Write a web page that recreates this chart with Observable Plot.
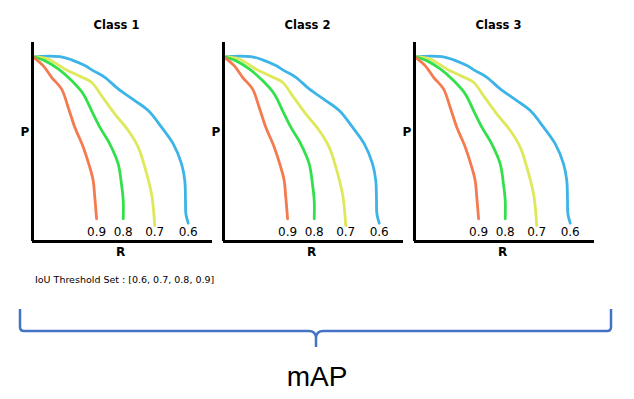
<!DOCTYPE html>
<html><head><meta charset="utf-8">
<script src="https://cdn.jsdelivr.net/npm/d3@7"></script>
<script src="https://cdn.jsdelivr.net/npm/@observablehq/plot@0.6"></script>
<style>
body{margin:0;background:#fff;}
#wrap{position:relative;width:634px;height:399px;overflow:hidden;}
#chart{position:absolute;left:0;top:0;}
#iou{position:absolute;left:35px;top:274px;font:9.5px "DejaVu Sans",sans-serif;color:#000;white-space:nowrap;}
#brace{position:absolute;left:0;top:0;}
#map{position:absolute;left:0;width:634px;top:361px;text-align:center;font:28px "Liberation Sans",Arial,sans-serif;color:#000;}
</style></head>
<body>
<div id="wrap">
<div id="chart"></div>
<div id="iou"></div>
<svg id="brace" width="634" height="399"></svg>
<div id="map"></div>
</div>
<script>
const classes = ["Class 1", "Class 2", "Class 3"];
const thresholds = [0.6, 0.7, 0.8, 0.9];
const thresholdLabels = ["0.6", "0.7", "0.8", "0.9"];
const colors = ["#3cb4e8", "#dfe85a", "#33e04b", "#f47a4f"];

// Recall / precision per IoU threshold (same curves in every class panel)
const recall06 = [0, .152, .217, .291, .337, .402, .476, .568, .643, .717, .782, .828, .846, .85, .852, .865];
const precision06 = [1, 1, .982, .951, .924, .888, .825, .762, .708, .618, .528, .42, .33, .222, .15, .099];
const recall07 = [0, .087, .179, .254, .328, .383, .457, .532, .587, .624, .661, .671, .679];
const precision07 = [1, .987, .933, .897, .861, .789, .69, .6, .51, .402, .258, .185, .086];
const recall08 = [0, .068, .143, .217, .282, .328, .374, .429, .476, .494, .504, .504];
const precision08 = [1, .978, .933, .87, .798, .708, .618, .528, .42, .312, .222, .123];
const recall09 = [0, .059, .106, .161, .198, .235, .282, .318, .337, .346, .356];
const precision09 = [1, .951, .888, .825, .726, .618, .51, .402, .33, .24, .123];

const xLabel = "R";
const yLabel = "P";
const note = "IoU Threshold Set : [0.6, 0.7, 0.8, 0.9]";
const bottomLabel = "mAP";

const curves = [
  [recall06, precision06],
  [recall07, precision07],
  [recall08, precision08],
  [recall09, precision09]
];

const rows = [];
const ends = [];
classes.forEach(c => {
  curves.forEach(([rs, ps], i) => {
    rs.forEach((r, j) => rows.push({cls: c, t: thresholds[i], r, p: ps[j]}));
    ends.push({cls: c, t: thresholds[i], label: thresholdLabels[i], r: rs[rs.length - 1]});
  });
});

const font = "DejaVu Sans";
const plot = Plot.plot({
  width: 634,
  height: 262,
  marginLeft: 31,
  marginRight: 40,
  marginTop: 42,
  marginBottom: 21,
  style: {fontFamily: font, background: "white"},
  fx: {domain: classes, paddingInner: 0.06, paddingOuter: 0, axis: null},
  x: {domain: [0, 1], axis: null},
  y: {domain: [0, 1.076], axis: null},
  color: {domain: thresholds, range: colors},
  marks: [
    Plot.line(rows, {fx: "cls", x: "r", y: "p", z: "t", stroke: "t", strokeWidth: 2.8, curve: "catmull-rom"}),
    Plot.ruleX([0], {stroke: "black", strokeWidth: 3}),
    Plot.ruleY([0], {stroke: "black", strokeWidth: 3}),
    Plot.text(ends, {fx: "cls", x: "r", y: 0, text: "label", dy: -9, fontSize: 12, fill: "black"}),
    Plot.text(classes, {fx: d => d, text: d => d, frameAnchor: "top", dy: -22, dx: -6, fontSize: 11.5, fontWeight: "bold", fill: "black"}),
    Plot.text(classes, {fx: d => d, text: () => yLabel, frameAnchor: "left", dx: -12, dy: -10, fontSize: 12, fontWeight: "bold", fill: "black"}),
    Plot.text(classes, {fx: d => d, text: () => xLabel, frameAnchor: "bottom", dy: 14, dx: -2, fontSize: 12, fontWeight: "bold", fill: "black"})
  ]
});
document.getElementById("chart").appendChild(plot);
document.getElementById("iou").textContent = note;
document.getElementById("map").textContent = bottomLabel;

// decorative brace
const brace = d3.select("#brace");
brace.append("path")
  .attr("d", "M20,309 L20,327 Q20,331 24,331 L309,331 Q315,331 316,337 L316,347 M316,337 Q317,331 323,331 L607,331 Q611,331 611,327 L611,309")
  .attr("fill", "none").attr("stroke", "#4472c4").attr("stroke-width", 2.5);
</script>
</body></html>
